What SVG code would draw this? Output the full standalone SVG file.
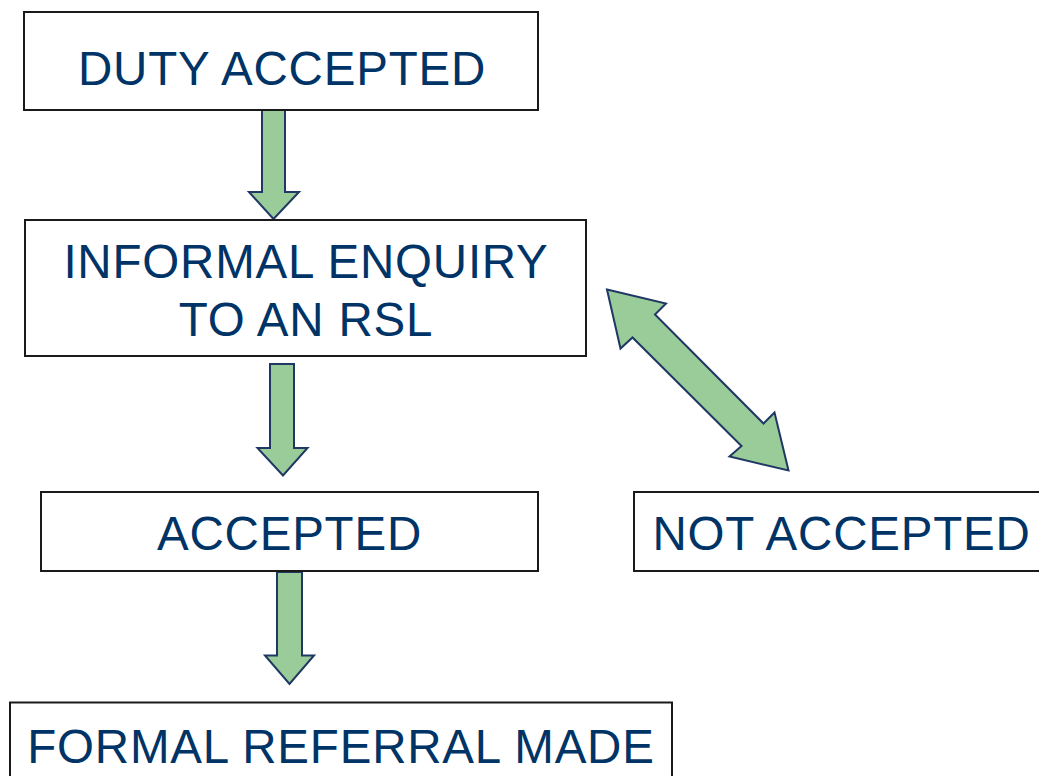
<svg xmlns="http://www.w3.org/2000/svg" width="1039" height="776" viewBox="0 0 1039 776">
<style>
.box{fill:#ffffff;stroke:#1a1a1a;stroke-width:2}
.lbl{font-family:"Liberation Sans",Arial,sans-serif;font-size:47.5px;letter-spacing:0.8px;fill:#003366;text-anchor:middle}
.arr{fill:#99cc99;stroke:#1f3864;stroke-width:2;stroke-linejoin:miter}
</style>
<rect width="1039" height="776" fill="#ffffff"/>
<g id="connectors">
<polygon class="arr" points="262,108 285,108 285,192 299,192 273.5,219 249,192 262,192"/>
<polygon class="arr" points="270,364 294,364 294,448 307.5,448 283,475.5 257.5,448 270,448"/>
<polygon class="arr" points="277,572 302,572 302,655.5 314,655.5 289.5,684 265,655.5 277,655.5"/>
<polygon class="arr" points="607,289.5 666,303.5 655,314.5 763.5,423.5 774.5,412.5 788.5,470.5 729.5,456.5 741.5,446 632.5,337.5 620.5,348.5"/>
</g>
<g id="duty">
<rect class="box" x="24" y="12" width="514" height="98"/>
<text class="lbl" x="282" y="85">DUTY ACCEPTED</text>
</g>
<g id="informal">
<rect class="box" x="25" y="220" width="561" height="136"/>
<text class="lbl" x="306" y="277.5">INFORMAL ENQUIRY</text>
<text class="lbl" x="306" y="336">TO AN RSL</text>
</g>
<g id="accepted">
<rect class="box" x="41" y="492" width="497" height="79"/>
<text class="lbl" x="289.5" y="550">ACCEPTED</text>
</g>
<g id="not-accepted">
<rect class="box" x="634" y="492" width="420" height="79"/>
<text class="lbl" x="841.5" y="550">NOT ACCEPTED</text>
</g>
<g id="formal">
<rect class="box" x="10" y="702.5" width="662" height="90"/>
<text class="lbl" x="341" y="763">FORMAL REFERRAL MADE</text>
</g>
</svg>
